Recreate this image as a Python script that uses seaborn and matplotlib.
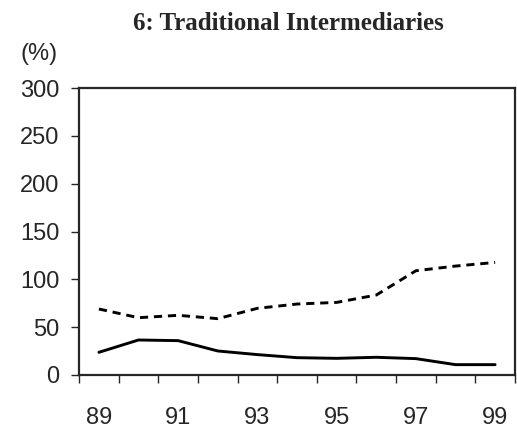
import pandas as pd
import matplotlib.pyplot as plt
import seaborn as sns

# lata i wartosci
years = ['89', '90', '91', '92', '93', '94', '95', '96', '97', '98', '99']
solid_vals = [23.7, 36.6, 35.9, 25.1, 21.3, 18.1, 17.4, 18.5, 17.1, 10.8, 10.8]
dashed_vals = [69.0, 59.9, 62.4, 58.9, 69.7, 74.2, 75.9, 83.6, 109.0, 113.9, 117.7]
y_ticks = [0, 50, 100, 150, 200, 250, 300]

sns.set_style('ticks')
plt.rcParams['font.family'] = ['Liberation Sans', 'DejaVu Sans']

df = pd.DataFrame({
    'x': list(range(len(years))) * 2,
    'val': solid_vals + dashed_vals,
    'series': ['solid'] * len(years) + ['dashed'] * len(years),
})

fig, ax = plt.subplots(figsize=(5.17, 4.32), dpi=100)
sns.lineplot(data=df[df['series'] == 'solid'], x='x', y='val', color='black', lw=2.1, ax=ax)
sns.lineplot(data=df[df['series'] == 'dashed'], x='x', y='val', color='black', lw=2.1,
             ax=ax, dashes=False)
ax.lines[-1].set_linestyle((0, (2.8, 2.0)))

ax.set_xlim(-0.5, len(years) - 0.5)
ax.set_ylim(0, 300)
ax.set_yticks(y_ticks)
ax.set_xticks(range(0, len(years), 2))
ax.set_xticklabels(years[::2])
ax.set_xticks([i - 0.5 for i in range(len(years) + 1)], minor=True)
ax.tick_params(axis='x', which='major', length=0, pad=23, labelsize=17)
ax.tick_params(axis='x', which='minor', length=6, width=1)
ax.tick_params(axis='y', length=6, width=1, labelsize=17, pad=8)
ax.set_xlabel('')
ax.set_ylabel('')
for s in ax.spines.values():
    s.set_linewidth(1.6)
    s.set_visible(True)

ax.set_title('6: Traditional Intermediaries', family='Liberation Serif', fontweight='bold',
             fontsize=18, pad=42, x=0.48)
ax.text(-0.135, 1.08, '(%)', transform=ax.transAxes, fontsize=17, ha='left', va='bottom')

fig.subplots_adjust(left=0.153, right=0.996, top=0.796, bottom=0.132)
fig.savefig('out.png', dpi=100)
